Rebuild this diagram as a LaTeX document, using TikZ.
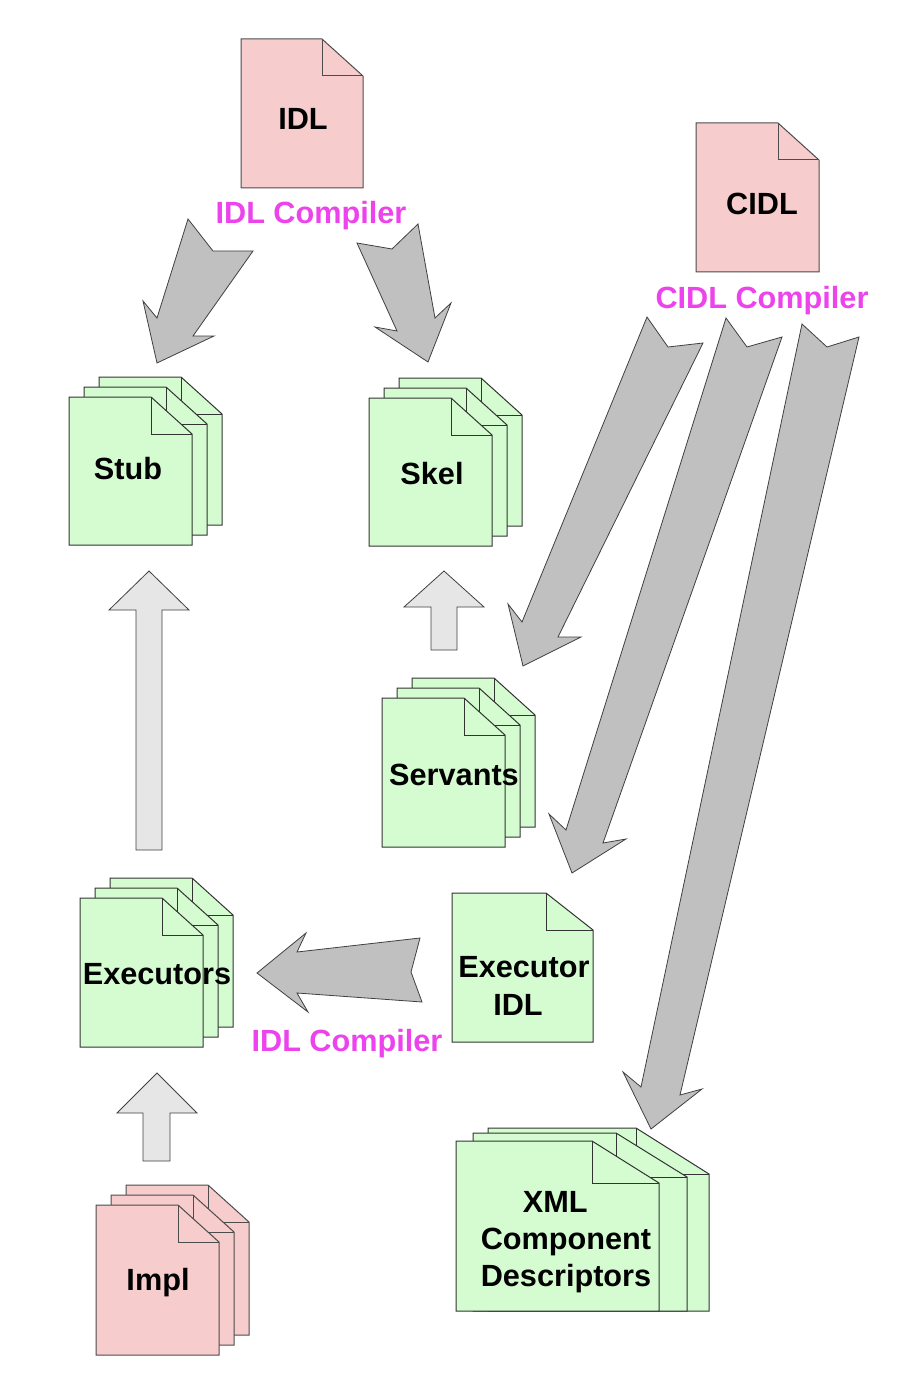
\documentclass[tikz,border=0pt]{standalone}
\usepackage{fontspec}
\setmainfont{Liberation Sans}

\definecolor{docpink}{RGB}{246,204,204}
\definecolor{docgreen}{RGB}{213,252,208}
\definecolor{fatgray}{RGB}{192,192,192}
\definecolor{thingray}{RGB}{230,230,230}
\definecolor{compmagenta}{RGB}{236,67,236}

% one page with a folded corner: style, left, top, width, height, fold w, fold h
\newcommand{\docpage}[7]{%
  \draw[#1] ({#2},{#3}) -- ({#2+#4-#6},{#3}) -- ({#2+#4},{#3+#7}) -- ({#2+#4},{#3+#5}) -- ({#2},{#3+#5}) -- cycle;
  \draw[#1,fill=none] ({#2+#4-#6},{#3}) -- ({#2+#4-#6},{#3+#7}) -- ({#2+#4},{#3+#7});
}
% three pages: style, left, top of the front page, height
\newcommand{\docstack}[4]{%
  \foreach \k in {2,1,0}{\docpage{#1}{#2+15*\k}{#3-10*\k}{123}{#4}{41}{37}}
}

\tikzset{
  pinkdoc/.style={draw=black!70,fill=docpink,line width=0.75pt},
  greendoc/.style={draw=black!80,fill=docgreen,line width=0.75pt},
  fatarrow/.style={draw=black!75,fill=fatgray,line width=0.6pt},
  thinarrow/.style={draw=black!75,fill=thingray,line width=0.6pt},
  doctext/.style={font=\fontsize{23}{28}\selectfont\bfseries,text height=16.5pt,text depth=0pt,inner sep=0pt},
  multitext/.style={font=\fontsize{23}{28}\selectfont\bfseries,align=center,inner sep=0pt},
  compiler/.style={doctext,text=compmagenta}
}

\begin{document}
\begin{tikzpicture}[x=0.75pt,y=-0.75pt]
\useasboundingbox (0,0) rectangle (920,1376);

% documents
\docpage{pinkdoc}{241}{39}{122}{149}{41}{37}
\docpage{pinkdoc}{696}{123}{123}{149}{41}{37}
\docstack{greendoc}{69}{397}{148}
\docstack{greendoc}{369}{398}{148}
\docstack{greendoc}{382}{698}{149}
\docstack{greendoc}{80}{898}{149}
\docpage{greendoc}{452}{893}{141}{149}{47}{37}
\docpage{greendoc}{488}{1128}{221}{183}{73}{46}
\docpage{greendoc}{473}{1133}{214}{178}{71}{44}
\docpage{greendoc}{456}{1141}{203}{170}{67}{42}
\docstack{pinkdoc}{96}{1205}{150}

% texts
\node[doctext] (idl) at (303,119) {IDL};
\node[doctext] (cidl) at (762,204) {CIDL};
\node[doctext] (stub) at (128,468) {Stub};
\node[doctext] (skel) at (432,473) {Skel};
\node[doctext] (servants) at (454,774) {Servants};
\node[doctext] (executors) at (157,973) {Executors};
\node[multitext] (execidl) at (524,986) {Executor\\IDL\hspace*{9pt}};
\node[multitext] (xml) at (566,1242) {XML\hspace*{16pt}\\Component\\Descriptors};
\node[doctext] (impl) at (158,1279) {Impl};
\node[compiler] (idlc) at (311,213) {IDL Compiler};
\node[compiler] (cidlc) at (762,297) {CIDL Compiler};
\node[compiler] (execc) at (347,1040) {IDL Compiler};

% compiler arrows
\draw[fatarrow] (188,219) -- (213,251) -- (253,251) -- (193,336) -- (214,336) -- (157,363) -- (143,301) -- (157,318) -- cycle;
\draw[fatarrow] (357,243) -- (392,249) -- (418,224) -- (435,318) -- (451,303) -- (428,362) -- (375,327) -- (397,331) -- cycle;
\draw[fatarrow] (647,317) -- (668,347) -- (703,343) -- (558,637) -- (581,637) -- (523,666) -- (508,604) -- (522,622) -- cycle;
\draw[fatarrow] (726,318) -- (747,347) -- (782,337) -- (603,843) -- (626,839) -- (572,873) -- (549,814) -- (566,830) -- cycle;
\draw[fatarrow] (802,324) -- (827,347) -- (859,337) -- (680,1095) -- (702,1089) -- (651,1129) -- (623,1072) -- (641,1087) -- cycle;
\draw[fatarrow] (420,938) -- (411,972) -- (422,1002) -- (297,993) -- (308,1012) -- (257,973) -- (306,933) -- (297,952) -- cycle;

% up arrows
\draw[thinarrow] (149,571) -- (189,610) -- (162,610) -- (162,850) -- (136,850) -- (136,610) -- (109,610) -- cycle;
\draw[thinarrow] (444,571) -- (484,607) -- (457,607) -- (457,650) -- (431,650) -- (431,607) -- (404,607) -- cycle;
\draw[thinarrow] (157,1073) -- (197,1113) -- (170,1113) -- (170,1161) -- (143,1161) -- (143,1113) -- (117,1113) -- cycle;
\end{tikzpicture}
\end{document}
